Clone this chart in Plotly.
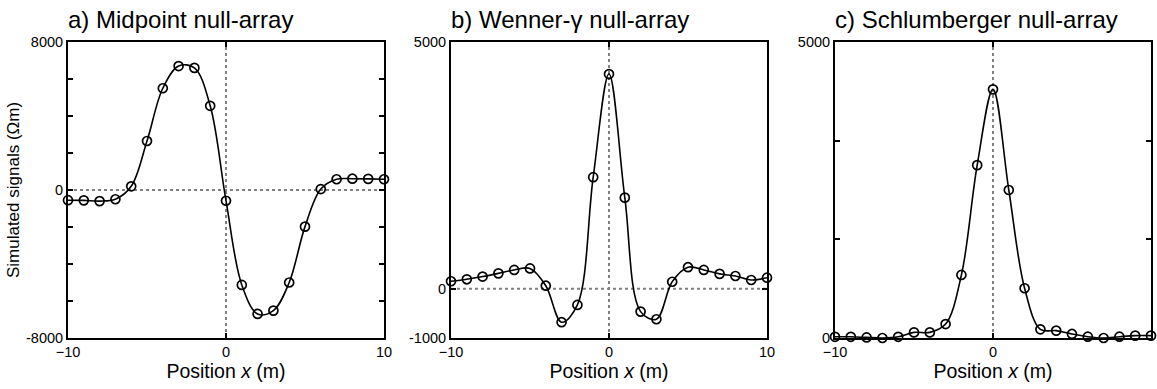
import plotly.graph_objects as go

# ---- data ----
positions = [-10, -9, -8, -7, -6, -5, -4, -3, -2, -1, 0, 1, 2, 3, 4, 5, 6, 7, 8, 9, 10]
midpoint = [-550, -560, -600, -500, 200, 2650, 5500, 6700, 6600, 4550, -580,
            -5130, -6700, -6520, -5000, -1980, 50, 580, 610, 600, 580]
wenner_gamma = [150, 190, 245, 310, 380, 410, 60, -680, -330, 2260, 4350,
                1845, -465, -620, 140, 435, 380, 300, 257, 176, 223]
schlumberger = [20, 20, 10, 0, 20, 95, 95, 235, 1065, 2920, 4200,
                2500, 840, 147, 125, 68, 22, 0, 22, 40, 40]

titles = ["a) Midpoint null-array", "b) Wenner-\u03b3 null-array", "c) Schlumberger null-array"]
series = [midpoint, wenner_gamma, schlumberger]
y_ranges = [[-8000, 8000], [-1000, 5000], [0, 5000]]
y_tickvals = [[-8000, -6000, -4000, -2000, 0, 2000, 4000, 6000, 8000],
              [-1000, 0, 5000],
              [0, 5000 / 3, 10000 / 3, 5000]]
y_ticktext = [["-8000", "", "", "", "0", "", "", "", "8000"],
              ["-1000", "0", "5000"],
              ["0", "", "", "5000"]]
x_tickvals = [-10, 0, 10]
x_title = "Position <i>x</i> (m)"
y_title = "Simulated signals (\u03a9m)"

W, H = 1157, 389
x_doms = [[68 / W, 384 / W], [451 / W, 767 / W], [835 / W, 1151 / W]]
y_dom = [1 - 338 / H, 1 - 42 / H]

FONT = "Liberation Sans, Arial, Helvetica, sans-serif"

fig = go.Figure()
for i in range(3):
    sfx = "" if i == 0 else str(i + 1)
    fig.add_trace(go.Scatter(
        x=positions, y=series[i], mode="lines+markers",
        line=dict(color="black", width=1.6, shape="spline", smoothing=1.0),
        marker=dict(symbol="circle-open", size=9, color="black", line=dict(width=1.7)),
        xaxis="x" + sfx, yaxis="y" + sfx, showlegend=False, cliponaxis=False,
    ))
    axis_common = dict(showline=True, linecolor="black", linewidth=2, mirror="ticks",
                       ticks="inside", ticklen=5, tickwidth=1.5, tickcolor="black",
                       showgrid=False, zeroline=False, automargin=False,
                       tickfont=dict(family=FONT, size=14.5, color="black"))
    fig.layout["xaxis" + sfx] = dict(domain=x_doms[i], range=[-10, 10], tickvals=x_tickvals,
                                     anchor="y" + sfx,
                                     title=dict(text=x_title, font=dict(family=FONT, size=19.5, color="black"),
                                                standoff=2),
                                     **axis_common)
    fig.layout["yaxis" + sfx] = dict(domain=y_dom, range=y_ranges[i], tickvals=y_tickvals[i],
                                     ticktext=y_ticktext[i], anchor="x" + sfx,
                                     **axis_common)
    # dotted reference lines
    fig.add_shape(type="line", xref="x" + sfx, yref="y" + sfx + " domain", x0=0, x1=0, y0=0, y1=1,
                  line=dict(color="#808080", width=2, dash="dot"), layer="below")
    if y_ranges[i][0] < 0:
        fig.add_shape(type="line", xref="x" + sfx + " domain", yref="y" + sfx, x0=0, x1=1, y0=0, y1=0,
                      line=dict(color="#808080", width=2, dash="dot"), layer="below")
    fig.add_annotation(text=titles[i], xref="paper", yref="paper", x=x_doms[i][0] - 2 / W, y=1 - 19 / H,
                       xanchor="left", yanchor="middle", showarrow=False,
                       font=dict(family=FONT, size=24, color="black"))

fig.layout.yaxis.title = dict(text=y_title, font=dict(family=FONT, size=17, color="black"), standoff=2)

fig.update_layout(width=W, height=H, margin=dict(l=0, r=0, t=0, b=0),
                  paper_bgcolor="white", plot_bgcolor="white",
                  font=dict(family=FONT, color="black"))

fig.write_html("out.html", config={"displayModeBar": False},
               post_script="document.body.style.margin='0px';")
